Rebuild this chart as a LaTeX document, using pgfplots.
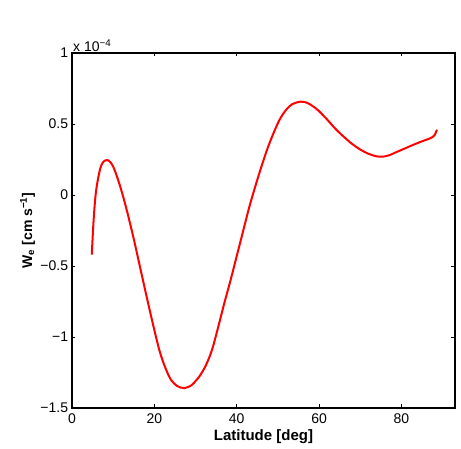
\documentclass[border=0pt]{standalone}
\usepackage{fontspec}
\setmainfont{Liberation Sans}
\usepackage{pgfplots}
\pgfplotsset{compat=1.18}
\begin{document}
\fontsize{14}{16}\selectfont
\begin{tikzpicture}
\begin{axis}[
    scale only axis,
    width=383pt, height=355pt,
    xmin=0, xmax=93,
    ymin=-1.5, ymax=1,
    xtick={0,20,40,60,80},
    xticklabels={0,20,40,60,80},
    ytick={-1.5,-1,-0.5,0,0.5,1},
    yticklabels={−1.5,−1,−0.5,0,0.5,1},
    tick align=inside,
    major tick length=3.5pt,
    axis line style={line width=1.1pt},
    every tick/.style={line width=0.9pt, black},
    xlabel={\fontsize{15}{17}\selectfont\textbf{Latitude [deg]}},
    ylabel={\textbf{W\textsubscript{e} [cm s\textsuperscript{−1}]}},
    xlabel style={yshift=4pt},
    ylabel style={yshift=-4pt},
    x tick label style={yshift=-1pt},
    y tick label style={xshift=1pt},
    clip=false,
]
% values in units of 1e-4 cm/s
\addplot[red, line width=2pt, smooth, tension=0.55] coordinates {
(4.8,-0.42) (5.2,-0.2) (5.6,-0.04) (6.0,0.06) (6.8,0.18) (7.5,0.23) (8.4,0.246)
(9.2,0.235) (10.0,0.2) (10.8,0.14) (11.7,0.06) (12.5,-0.02) (13.5,-0.13)
(15.0,-0.31) (16.5,-0.505) (18.0,-0.70) (19.5,-0.89) (21.0,-1.07) (22.0,-1.165)
(23.0,-1.24) (24.0,-1.30) (25.5,-1.345) (27.3,-1.36) (29.0,-1.34) (30.0,-1.31)
(31.0,-1.275) (32.5,-1.2) (34.0,-1.09) (35.5,-0.93) (37.0,-0.76) (38.5,-0.6)
(40.0,-0.43) (41.5,-0.26) (43.0,-0.09) (44.5,0.06) (46.0,0.2) (47.5,0.33)
(49.0,0.44) (50.5,0.535) (52.0,0.6) (53.5,0.64) (55.5,0.657) (57.0,0.65)
(58.5,0.625) (60.0,0.59) (62.0,0.53) (64.0,0.465) (66.0,0.41) (68.0,0.36)
(70.0,0.32) (72.0,0.29) (74.0,0.272) (75.5,0.27) (77.0,0.28) (79.0,0.305)
(81.0,0.33) (83.0,0.355) (85.0,0.378) (87.0,0.40) (88.0,0.42) (88.6,0.46)
};
\node[anchor=south west, inner sep=1pt] at (rel axis cs:0,1) {x 10\textsuperscript{−4}};
\end{axis}
\path (current axis.south west) ++(-72pt,-40pt) rectangle ++(461pt,448pt);
\end{tikzpicture}
\end{document}
